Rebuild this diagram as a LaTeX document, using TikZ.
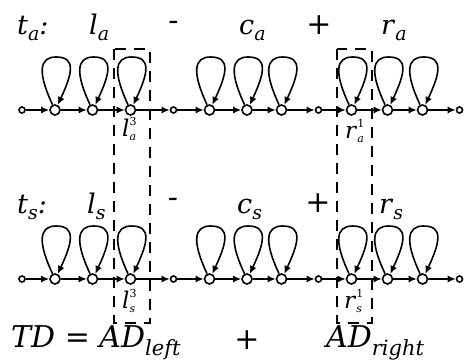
\documentclass[tikz,border=0pt]{standalone}
\usepackage{fontspec}
\setmainfont{DejaVu Serif}
\usetikzlibrary{arrows.meta}
\newcommand{\mainlab}[2]{\textit{#1}\raisebox{-6pt}{\fontsize{19}{19}\selectfont\itshape #2}}
\newcommand{\cutlab}[3]{\textit{#1}\makebox[0pt][l]{\raisebox{11pt}{\fontsize{11}{11}\selectfont #3}}\raisebox{-4pt}{\fontsize{11}{11}\selectfont\itshape #2}}
\newcommand{\selfloop}[1]{\draw[arr] (#1.115) .. controls +(-15,-32) and +(-17,0) .. ([shift={(1,-53)}]#1.center) .. controls +(20,0) and +(15,-32) .. (#1.62);}
\tikzset{
  arr/.style={line width=1.6pt, -{Latex[length=8pt,width=7pt]}},
  bigst/.style={circle, draw, line width=1.6pt, fill=white, minimum size=10pt, inner sep=0pt},
  smallst/.style={circle, draw, line width=1.6pt, fill=white, minimum size=6pt, inner sep=0pt},
  cutbox/.style={draw, line width=1.6pt, dash pattern=on 11pt off 8pt},
  lab/.style={anchor=base west, inner sep=0pt, font=\fontsize{27}{27}\selectfont},
  cut/.style={anchor=base west, inner sep=0pt, font=\fontsize{23}{23}\selectfont},
  op/.style={anchor=center, inner sep=0pt, font=\fontsize{30}{30}\selectfont},
  eq/.style={anchor=base west, inner sep=0pt, font=\fontsize{30}{30}\selectfont},
}
\begin{document}
\begin{tikzpicture}[x=1pt,y=-1pt]
\useasboundingbox (0,0) rectangle (465,363);
% dashed boxes
\draw[cutbox] (114,49) rectangle (150,323);
\draw[cutbox] (337,49) rectangle (372,323);
% chains
\foreach \x [count=\i from 0] in {22,55,92.5,130.5,173.5,209.5,247,281.5,318.5,351.5,387.5,422.5,459.5} {
  \pgfmathtruncatemacro\m{mod(\i,4)}
  \ifnum\m=0
    \node[smallst] (a\i) at (\x,110) {};
    \node[smallst] (s\i) at (\x,279) {};
  \else
    \node[bigst] (a\i) at (\x,110) {};
    \node[bigst] (s\i) at (\x,279) {};
  \fi
}
\foreach \i [evaluate=\i as \j using int(\i+1)] in {0,...,11} {
  \draw[arr] (a\i) -- (a\j);
  \draw[arr] (s\i) -- (s\j);
}
\foreach \i in {1,2,3,5,6,7,9,10,11} {
  \selfloop{a\i}
  \selfloop{s\i}
}
% row 1 labels
\node[lab] (ta) at (17,35) {\mainlab{t}{a}\textit{:}};
\node[lab] (la) at (89,35) {\mainlab{l}{a}};
\node[op] (m1) at (173.5,26) {\textit{-}};
\node[lab] (ca) at (239,35) {\mainlab{c}{a}};
\node[op] (p1) at (319,25) {\textit{+}};
\node[lab] (ra) at (381,35) {\mainlab{r}{a}};
\node[cut] (la3) at (122,137) {\cutlab{l}{a}{3}};
\node[cut] (ra1) at (345,139) {\cutlab{r}{a}{1}};
% row 2 labels
\node[lab] (ts) at (17,213) {\mainlab{t}{s}\textit{:}};
\node[lab] (ls) at (87,213) {\mainlab{l}{s}};
\node[op] (m2) at (173,203) {\textit{-}};
\node[lab] (cs) at (237,213) {\mainlab{c}{s}};
\node[op] (p2) at (318,203) {\textit{+}};
\node[lab] (rs) at (379,213) {\mainlab{r}{s}};
\node[cut] (ls3) at (122,308) {\cutlab{l}{s}{3}};
\node[cut] (rs1) at (344,308) {\cutlab{r}{s}{1}};
% bottom
\node[eq] (td) at (11,347) {\textit{TD = AD}\raisebox{-8pt}{\fontsize{21}{21}\selectfont\itshape left}};
\node[op] (p3) at (247,340) {+};
\node[eq] (adr) at (326,347) {\textit{AD}\raisebox{-8pt}{\fontsize{21}{21}\selectfont\itshape right}};
\end{tikzpicture}
\end{document}
